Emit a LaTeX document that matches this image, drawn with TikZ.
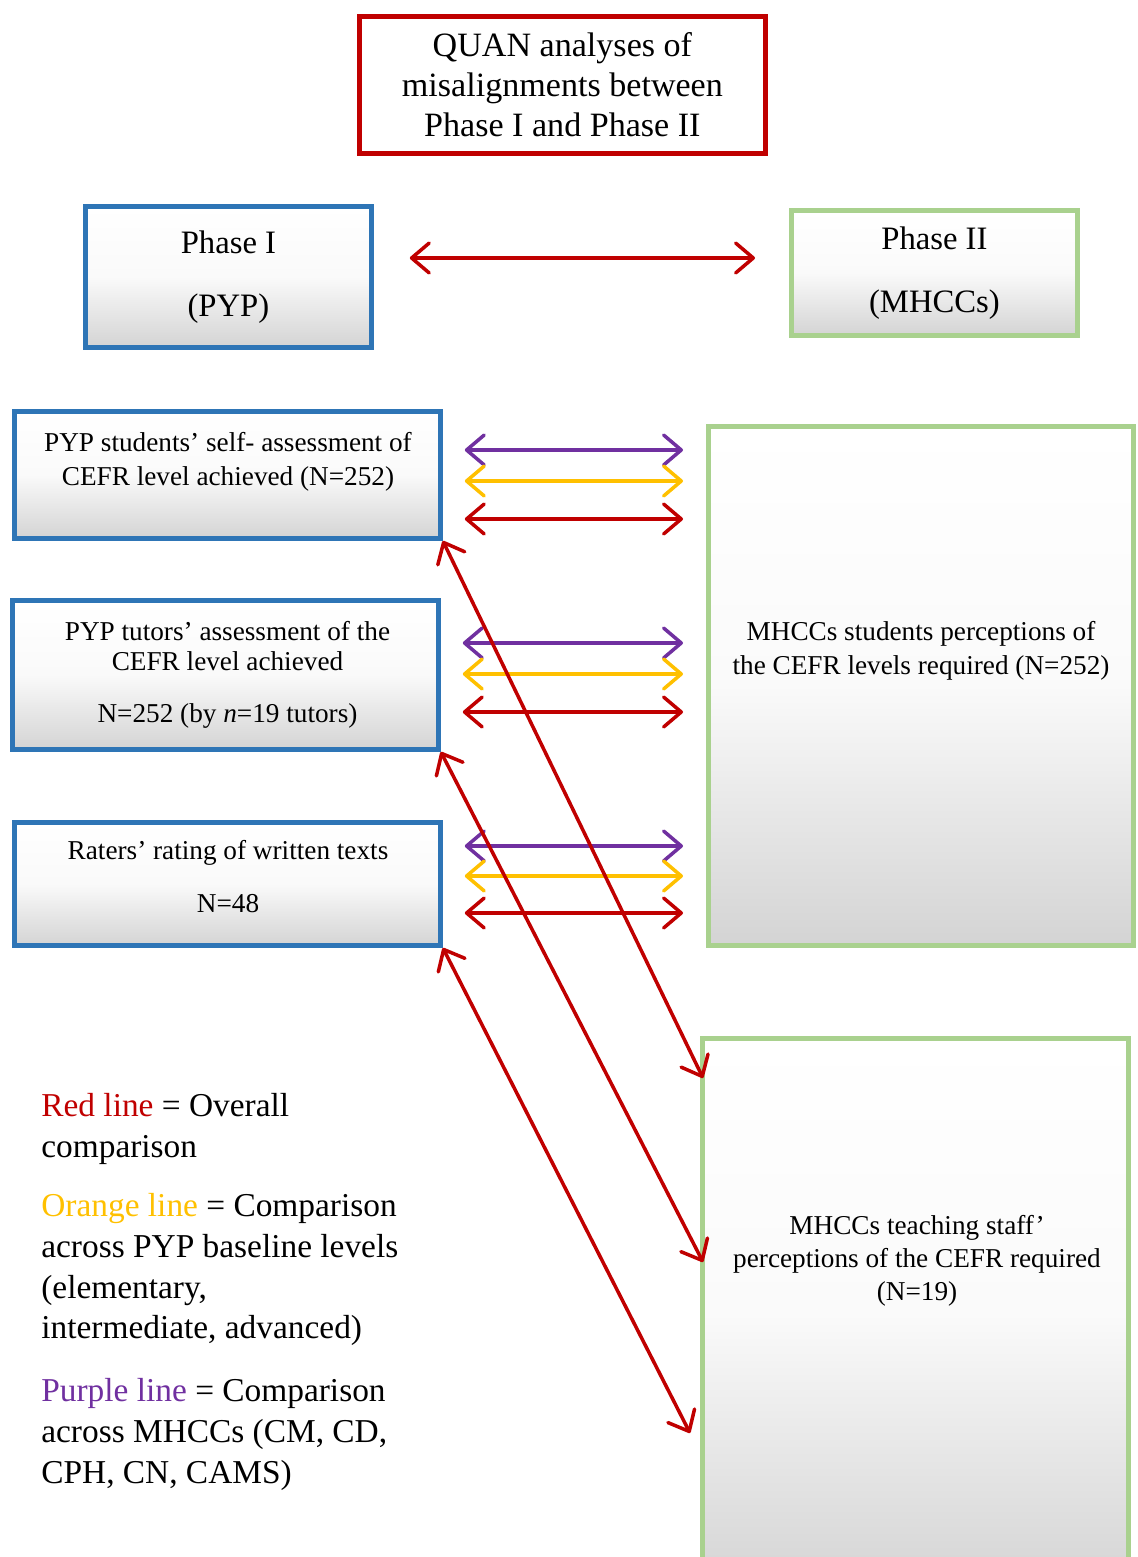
\documentclass[tikz,border=0pt]{standalone}
\usepackage{fontspec}
\setmainfont{Liberation Serif}
\usepackage{xcolor}
\usetikzlibrary{positioning, calc, arrows.meta}

\definecolor{qred}{HTML}{C00000}
\definecolor{qpurple}{HTML}{7030A0}
\definecolor{qorange}{HTML}{FFC000}
\definecolor{qblue}{HTML}{2E75B6}
\definecolor{qgreen}{HTML}{A9D18E}

\begin{document}
\begin{tikzpicture}[
    x=0.02cm, y=-0.02cm,
    box/.style={draw, rectangle, anchor=north west, align=center, top color=white, bottom color=black!17, middle color=black!2},
    titlebox/.style={draw=qred, fill=white, rectangle, anchor=north west, align=center, line width=2.8pt, minimum width=8.12cm, minimum height=2.74cm, font=\fontsize{19.4}{22.7}\selectfont},
    phasebox/.style={box, line width=2.8pt, minimum width=5.72cm, font=\fontsize{18.6}{22}\selectfont},
    bluebox/.style={box, draw=qblue, line width=2.8pt, minimum width=8.52cm},
    greenbox/.style={box, draw=qgreen, line width=2.8pt, minimum width=8.5cm},
    boxtext/.style={anchor=north, align=center, inner sep=0pt, font=\fontsize{15.5}{19.3}\selectfont},
    legend/.style={anchor=north west, align=left, inner sep=0pt, font=\fontsize{19}{23.2}\selectfont},
    arrow/.style={{Straight Barb[length=10pt,width=17pt,round]}-{Straight Barb[length=10pt,width=17pt,round]}, line width=2pt, line cap=round},
    hshort/.style={shorten <=0.44cm, shorten >=0.46cm}
]
    \useasboundingbox (0,0) rectangle (1138,1557);

    % --- Title ---
    \node[titlebox] (quan) at (357,14) {QUAN analyses of\\misalignments between\\Phase I and Phase II};

    % --- Phases ---
    \node[phasebox, draw=qblue, minimum height=2.82cm] (ph1) at (83,204) {Phase I\\[13.7pt](PYP)};
    \node[phasebox, draw=qgreen, minimum height=2.5cm] (ph2) at (789,208) {Phase II\\[13.7pt](MHCCs)};
    \draw[arrow, qred, shorten <=0.72cm, shorten >=0.68cm] (ph1.east |- 0,258) -- (ph2.west |- 0,258);

    % --- Phase I sources ---
    \node[bluebox, minimum height=2.54cm] (s1) at (12,409) {};
    \node[boxtext] (s1txt) at (228,432) {PYP students’ self- assessment of\\CEFR level achieved (N=252)};
    \node[bluebox, minimum height=2.98cm] (s2) at (10,598) {};
    \node[boxtext, font=\fontsize{15.5}{17}\selectfont] (s2txt) at (227.5,621) {PYP tutors’ assessment of the\\CEFR level achieved\\[12.5pt]N=252 (by \textit{n}=19 tutors)};
    \node[bluebox, minimum height=2.46cm] (s3) at (12,820) {};
    \node[boxtext] (s3txt) at (228,840) {Raters’ rating of written texts\\[10.7pt]N=48};

    % --- Phase II sources ---
    \node[greenbox, minimum height=10.38cm] (g1) at (706,424) {};
    \node[boxtext] (g1txt) at (921,621) {MHCCs students perceptions of\\the CEFR levels required (N=252)};
    \node[greenbox, minimum width=8.52cm, minimum height=11.03cm] (g2) at (700,1036) {};
    \node[boxtext, font=\fontsize{15.5}{18.7}\selectfont] (g2txt) at (917,1215) {MHCCs teaching staff’\\perceptions of the CEFR required\\(N=19)};

    % --- Comparisons ---
    \foreach \b/\yp/\yo/\yr in {s1/450/481/519, s2/643/674/712, s3/846/876/913} {
        \draw[arrow, hshort, qpurple] (\b.east |- 0,\yp) -- (g1.west |- 0,\yp);
        \draw[arrow, hshort, qorange] (\b.east |- 0,\yo) -- (g1.west |- 0,\yo);
        \draw[arrow, hshort, qred] (\b.east |- 0,\yr) -- (g1.west |- 0,\yr);
    }
    \draw[arrow, qred] (s1.south east) -- ($(g2.north west)+(3,42)$);
    \draw[arrow, qred] (s2.south east) -- ($(g2.west |- 0,1262)+(3,0)$);
    \draw[arrow, qred] (s3.south east) -- ($(g2.west |- 0,1433)+(-10,0)$);

    % --- Legend ---
    \node[legend] (leg1) at (41,1093) {\textcolor{qred}{Red line} = Overall\\comparison};
    \node[legend] (leg2) at (41,1193) {\textcolor{qorange}{Orange line} = Comparison\\across PYP baseline levels\\(elementary,\\intermediate, advanced)};
    \node[legend] (leg3) at (41,1378) {\textcolor{qpurple}{Purple line} = Comparison\\across MHCCs (CM, CD,\\CPH, CN, CAMS)};

\end{tikzpicture}
\end{document}
